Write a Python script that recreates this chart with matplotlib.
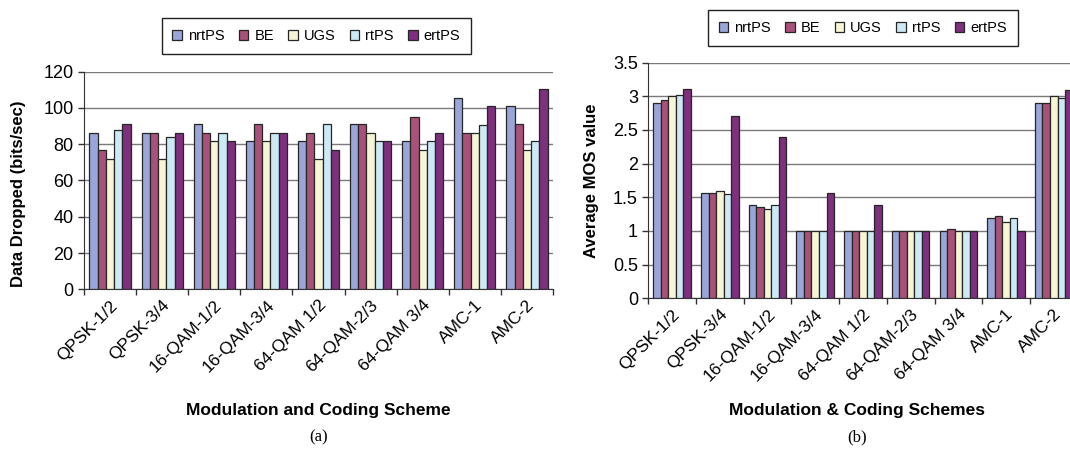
import matplotlib.pyplot as plt
import numpy as np

schemes = ["QPSK-1/2", "QPSK-3/4", "16-QAM-1/2", "16-QAM-3/4", "64-QAM 1/2",
           "64-QAM-2/3", "64-QAM 3/4", "AMC-1", "AMC-2"]
services = ["nrtPS", "BE", "UGS", "rtPS", "ertPS"]
colors = ["#9aa5d8", "#a8527a", "#f6f5d6", "#cce9f5", "#7e2f7e"]

# (a) data dropped, bits/sec
drop_nrtps = [86, 86, 91, 81.5, 81.5, 91, 81.5, 105.5, 101]
drop_be = [77, 86, 86, 91, 86, 91, 95, 86, 91]
drop_ugs = [72, 72, 81.5, 81.5, 72, 86, 77, 86, 77]
drop_rtps = [88, 84, 86, 86, 91, 81.5, 81.5, 90.5, 81.5]
drop_ertps = [91, 86, 81.5, 86, 77, 81.5, 86, 101, 110.5]

# (b) average MOS
mos_nrtps = [2.9, 1.57, 1.38, 1, 1, 1, 1, 1.19, 2.9]
mos_be = [2.94, 1.57, 1.36, 1, 1, 1, 1.03, 1.22, 2.9]
mos_ugs = [3.0, 1.6, 1.33, 1, 1, 1, 1, 1.14, 3.0]
mos_rtps = [3.02, 1.55, 1.38, 1, 1, 1, 1, 1.19, 2.97]
mos_ertps = [3.1, 2.71, 2.4, 1.57, 1.38, 1, 1, 1, 3.09]

plt.rcParams["font.family"] = ["Liberation Sans", "DejaVu Sans"]

fig = plt.figure(figsize=(10.7, 4.5), dpi=100)
ax_a = fig.add_axes([0.0785, 0.357, 0.4383, 0.4841])
ax_b = fig.add_axes([0.6059, 0.3369, 0.4012, 0.5242])


def grouped_bars(ax, series, ymax, ystep):
    x = np.arange(len(schemes))
    width = 0.79 / len(series)
    handles = []
    for i, vals in enumerate(series):
        h = ax.bar(x + (i - 2) * width, vals, width, color=colors[i],
                   edgecolor="#262626", linewidth=0.9, zorder=3, label=services[i])
        handles.append(h)
    ax.set_xlim(-0.5, len(schemes) - 0.5)
    ax.set_ylim(0, ymax)
    ax.set_yticks(np.arange(0, ymax + ystep / 2, ystep))
    ax.yaxis.set_major_formatter(plt.FuncFormatter(lambda v, p: f"{v:g}"))
    ax.grid(axis="y", color="#7a7a7a", linewidth=1.0, zorder=0)
    ax.set_xticks(x)
    ax.set_xticklabels(schemes, rotation=45, ha="right", rotation_mode="anchor",
                       fontsize=12.5)
    ax.tick_params(axis="x", which="major", length=0, pad=6)
    ax.set_xticks(np.arange(-0.5, len(schemes)), minor=True)
    ax.tick_params(axis="x", which="minor", length=4, width=1, color="#333333")
    ax.tick_params(axis="y", labelsize=13, length=4, width=1, color="#333333")
    for s in ["top", "right"]:
        ax.spines[s].set_visible(False)
    for s in ["left", "bottom"]:
        ax.spines[s].set_color("#333333")
    return handles


h = grouped_bars(ax_a, [drop_nrtps, drop_be, drop_ugs, drop_rtps, drop_ertps], 120, 20)
grouped_bars(ax_b, [mos_nrtps, mos_be, mos_ugs, mos_rtps, mos_ertps], 3.5, 0.5)

ax_a.set_ylabel("Data Dropped (bits/sec)", fontsize=12, fontweight="bold")
ax_a.yaxis.set_label_coords(-0.124, 0.44)
ax_b.set_ylabel("Average MOS value", fontsize=12, fontweight="bold")
ax_b.yaxis.set_label_coords(-0.114, 0.5)

fig.text(0.2977, 0.087, "Modulation and Coding Scheme", fontsize=12.5,
         fontweight="bold", ha="center", va="center")
fig.text(0.8013, 0.087, "Modulation & Coding Schemes", fontsize=12.5,
         fontweight="bold", ha="center", va="center")
fig.text(0.2977, 0.029, "(a)", fontsize=12, family="Liberation Serif",
         ha="center", va="center")
fig.text(0.8013, 0.029, "(b)", fontsize=12, family="Liberation Serif",
         ha="center", va="center")

for cx, cy in [(0.2957, 0.9204), (0.8064, 0.9378)]:
    leg = fig.legend(h, services, loc="center", bbox_to_anchor=(cx, cy), ncol=5,
                     fontsize=10.5, handlelength=0.65, handleheight=0.65,
                     handletextpad=0.4, columnspacing=1.0, fancybox=False,
                     edgecolor="#222222", framealpha=1, borderpad=0.75)
    leg.get_frame().set_linewidth(1.0)

fig.savefig("out.png", dpi=100)
